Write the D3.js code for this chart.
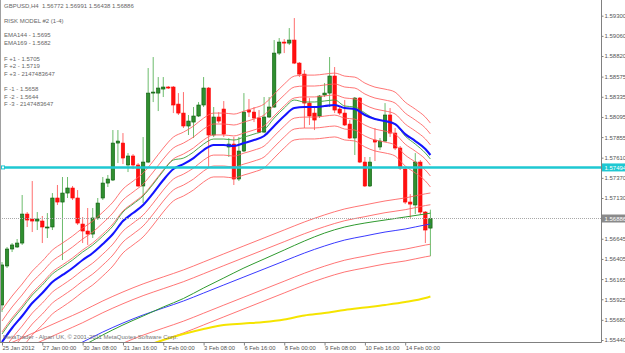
<!DOCTYPE html>
<html><head><meta charset="utf-8">
<script src="https://cdn.jsdelivr.net/npm/d3@7"></script>
<style>
body{margin:0;background:#fff;}
svg{display:block;}
text{font-family:Arial,"Liberation Sans",sans-serif;}
</style>
</head><body>
<svg id="c" width="625" height="353"></svg>
<script>
// ---------- DATA ----------
const opens  = [1.55857,1.56321,1.56523,1.56547,1.56594,1.56939,1.56880,1.56856,1.56856,1.56773,1.56785,1.57130,1.57082,1.57189,1.57249,1.57130,1.56820,1.56737,1.56701,1.56892,1.57130,1.57308,1.57344,1.57784,1.57784,1.57523,1.57630,1.57523,1.57273,1.57558,1.58379,1.58379,1.58427,1.58451,1.58451,1.58248,1.58141,1.57987,1.58034,1.58106,1.58237,1.58439,1.57880,1.58094,1.58189,1.57737,1.57772,1.57356,1.57689,1.58177,1.58153,1.58082,1.57915,1.58094,1.58213,1.58855,1.58986,1.58974,1.59010,1.58736,1.58605,1.58260,1.58141,1.58106,1.58356,1.58379,1.58582,1.58189,1.58141,1.58010,1.57844,1.58320,1.57558,1.57273,1.57820,1.57737,1.57808,1.58118,1.57903,1.57725,1.57475,1.57082,1.57047,1.57558,1.56963,1.56772];
const highs  = [1.56368,1.56547,1.56594,1.56642,1.57166,1.56963,1.57332,1.56963,1.56916,1.56951,1.57189,1.57285,1.57380,1.57380,1.57273,1.57225,1.56904,1.57011,1.57011,1.57130,1.57380,1.57404,1.57939,1.57939,1.57903,1.57665,1.57653,1.57546,1.57856,1.58677,1.58808,1.58570,1.58570,1.58463,1.58463,1.58379,1.58391,1.58118,1.58213,1.58272,1.58570,1.58451,1.58213,1.58153,1.58284,1.57844,1.57856,1.57856,1.58379,1.58308,1.58213,1.58177,1.58332,1.58332,1.59010,1.59034,1.59022,1.59153,1.59272,1.58748,1.58653,1.58320,1.58213,1.58356,1.58498,1.58808,1.58689,1.58225,1.58296,1.58058,1.58332,1.58332,1.57618,1.57618,1.57963,1.57844,1.58260,1.58201,1.57963,1.57749,1.57487,1.57177,1.57665,1.57582,1.56975,1.56991];
const lows   = [1.55773,1.56297,1.56487,1.56535,1.56571,1.56785,1.56725,1.56749,1.56594,1.56654,1.56749,1.57047,1.56392,1.57130,1.57106,1.56809,1.56594,1.56571,1.56654,1.56868,1.57106,1.57261,1.57332,1.57546,1.57534,1.57439,1.57475,1.57261,1.57070,1.57546,1.58272,1.58165,1.58332,1.58427,1.58141,1.58118,1.57963,1.57880,1.57844,1.58094,1.58213,1.57487,1.57856,1.58022,1.57856,1.57618,1.57285,1.57332,1.57677,1.58094,1.58034,1.57903,1.57903,1.58082,1.58201,1.58832,1.58855,1.58951,1.58724,1.58570,1.57963,1.57999,1.57939,1.58082,1.58332,1.58213,1.58141,1.58118,1.57987,1.57832,1.57642,1.57546,1.57261,1.57261,1.57570,1.57701,1.57796,1.57856,1.57701,1.57463,1.57058,1.56892,1.56939,1.56928,1.56594,1.56438];
const closes = [1.56333,1.56523,1.56571,1.56594,1.56939,1.56868,1.56856,1.56880,1.56785,1.56785,1.57130,1.57082,1.57189,1.57249,1.57130,1.56832,1.56737,1.56701,1.56892,1.57070,1.57308,1.57356,1.57784,1.57808,1.57606,1.57630,1.57523,1.57273,1.57558,1.58379,1.58391,1.58439,1.58451,1.58439,1.58237,1.58141,1.57987,1.58046,1.58106,1.58237,1.58439,1.57880,1.58094,1.58046,1.57891,1.57772,1.57356,1.57689,1.58153,1.58153,1.58082,1.57915,1.58094,1.58213,1.58855,1.58986,1.58974,1.59010,1.58736,1.58605,1.58260,1.58106,1.58058,1.58344,1.58379,1.58582,1.58177,1.58141,1.57999,1.57844,1.58320,1.57558,1.57273,1.57558,1.57796,1.57808,1.58118,1.57903,1.57725,1.57487,1.57082,1.57058,1.57558,1.56963,1.56749,1.56886];

// short-period moving averages (bar index, price)
const shortIdx   = [0,2,4,6,8,10,12,14,16,18,20,22,24,26,28,30,32,34,36,38,40,42,44,46,48,50,52,54,56,58,60,62,64,66,68,70,72,74,76,78,80,82,84,85];
const shortBlue  = [1.55416,1.55583,1.55726,1.55880,1.55999,1.56130,1.56214,1.56297,1.56392,1.56475,1.56582,1.56701,1.56856,1.56951,1.57047,1.57189,1.57344,1.57475,1.57534,1.57606,1.57701,1.57761,1.57761,1.57749,1.57784,1.57820,1.57868,1.57987,1.58106,1.58201,1.58213,1.58213,1.58225,1.58237,1.58201,1.58189,1.58118,1.58070,1.58046,1.58010,1.57891,1.57808,1.57713,1.57642];
const shortGreen = [1.55511,1.55678,1.55821,1.55975,1.56094,1.56225,1.56309,1.56392,1.56487,1.56570,1.56677,1.56796,1.56963,1.57058,1.57154,1.57296,1.57451,1.57582,1.57605,1.57677,1.57772,1.57832,1.57832,1.57820,1.57855,1.57891,1.57939,1.58082,1.58201,1.58296,1.58273,1.58273,1.58285,1.58297,1.58225,1.58213,1.58142,1.58070,1.58046,1.58010,1.57867,1.57772,1.57665,1.57594];
const shortBands = [0.0038,0.0025,0.0012,-0.0012,-0.0025,-0.0038];

// long-period moving averages
const longIdx   = [0,4,8,12,16,20,24,28,32,36,40,44,48,52,56,60,64,68,72,76,80,84,85];
const ema169    = [1.54988,1.55095,1.55202,1.55309,1.55416,1.55535,1.55642,1.55738,1.55821,1.55904,1.55999,1.56095,1.56190,1.56285,1.56380,1.56475,1.56559,1.56630,1.56678,1.56725,1.56761,1.56810,1.56820];
const ema144    = [1.54893,1.55012,1.55131,1.55250,1.55369,1.55500,1.55619,1.55726,1.55833,1.55934,1.56059,1.56178,1.56297,1.56404,1.56511,1.56618,1.56713,1.56785,1.56832,1.56868,1.56904,1.56940,1.56950];
const longBands = [0.0037,0.0023,-0.0024,-0.0038];

const yellowIdx = [28,32,36,40,44,48,52,56,60,64,68,72,76,80,84,85];
const yellowMA  = [1.55357,1.55440,1.55511,1.55571,1.55619,1.55636,1.55654,1.55684,1.55732,1.55761,1.55797,1.55827,1.55857,1.55892,1.55940,1.55958];

const hLinePrice = 1.57494;
const lastPrice  = 1.56886;

const yTicks   = [1.59300,1.59060,1.58820,1.58575,1.58335,1.58095,1.57855,1.57610,1.57370,1.57130,1.56645,1.56405,1.56165,1.55925,1.55680,1.55440];
const xTickIdx = [0,8,16,24,32,40,48,56,64,72,80];
const xLabels  = ["25 Jan 2012","27 Jan 00:00","30 Jan 08:00","31 Jan 16:00","2 Feb 00:00","3 Feb 08:00","6 Feb 16:00","8 Feb 00:00","9 Feb 08:00","10 Feb 16:00","14 Feb 00:00"];

const infoLines = ["GBPUSD,H4  1.56772 1.56991 1.56438 1.56886","RISK MODEL #2 (1-4)","EMA144 - 1.5695","EMA169 - 1.5682","F +1 - 1.5705","F +2 - 1.5719","F +3 - 2147483647","F -1 - 1.5658","F -2 - 1.5644","F -3 - 2147483647"];
const copyright = "MetaTrader - Alpari UK, \u00a9 2001-2011 MetaQuotes Software Corp.";

// ---------- LAYOUT ----------
const plotR = 601.5, plotB = 342.5;
const svg = d3.select("#c");
const x = d3.scaleLinear().domain([0,80]).range([2,405.2]);
const y = d3.scaleLinear().domain([1.55440,1.59300]).range([340,15.7]);

svg.append("rect").attr("width",625).attr("height",353).attr("fill","#fff");
svg.append("defs").append("clipPath").attr("id","clip")
  .append("rect").attr("x",0).attr("y",0).attr("width",plotR).attr("height",plotB);

const g = svg.append("g").attr("clip-path","url(#clip)");

// candles
const candles = d3.range(opens.length).map(i=>({i,o:opens[i],h:highs[i],l:lows[i],c:closes[i]}));
const cg = g.append("g");
cg.selectAll("line.w").data(candles).join("line")
  .attr("x1",d=>x(d.i)).attr("x2",d=>x(d.i))
  .attr("y1",d=>y(d.h)).attr("y2",d=>y(d.l))
  .attr("stroke",d=>d.c>=d.o?"#6cbc6c":"#ff6e6e").attr("stroke-width",1);
cg.selectAll("rect.b").data(candles).join("rect")
  .attr("x",d=>x(d.i)-1.7).attr("width",3.4)
  .attr("y",d=>y(Math.max(d.o,d.c)))
  .attr("height",d=>Math.max(1,Math.abs(y(d.o)-y(d.c))))
  .attr("fill",d=>d.c>=d.o?"#2f8f2f":"#ff1010")
  .attr("stroke",d=>d.c>=d.o?"#0b5a0b":"#ff0000").attr("stroke-width",0.6);

const line = d3.line().x(d=>x(d[0])).y(d=>y(d[1])).curve(d3.curveMonotoneX);
function path(idx, vals, off, color, w){
  g.append("path").datum(idx.map((k,j)=>[k,vals[j]+off]))
    .attr("d",line).attr("fill","none").attr("stroke",color).attr("stroke-width",w);
}
// long set
longBands.forEach(o=>path(longIdx, ema169, o, "#ff5c5c", 0.85));
path(longIdx, ema169, 0, "#3a3aff", 1);
path(longIdx, ema144, 0, "#2f9a2f", 1);
path(yellowIdx, yellowMA, 0, "#f5e400", 2);
// short set
shortBands.forEach(o=>path(shortIdx, shortBlue, o, "#ff5c5c", 0.85));
path(shortIdx, shortGreen, 0, "#3a9e3a", 0.9);
path(shortIdx, shortBlue, 0, "#1414ff", 2.1);

// horizontal lines
g.append("line").attr("x1",0).attr("x2",plotR).attr("y1",y(lastPrice)).attr("y2",y(lastPrice))
  .attr("stroke","#a8a8a8").attr("stroke-width",1).attr("stroke-dasharray","1,1");
g.append("line").attr("x1",0).attr("x2",plotR).attr("y1",y(hLinePrice)).attr("y2",y(hLinePrice))
  .attr("stroke","#1ec8d2").attr("stroke-width",2.4);
g.append("rect").attr("x",1.5).attr("y",y(hLinePrice)-1.5).attr("width",3).attr("height",3)
  .attr("fill","#fff").attr("stroke","#1ec8d2").attr("stroke-width",1);

// frame
svg.append("line").attr("x1",0.5).attr("x2",0.5).attr("y1",0).attr("y2",plotB).attr("stroke","#a0a0a0");
svg.append("line").attr("x1",plotR).attr("x2",plotR).attr("y1",0).attr("y2",plotB).attr("stroke","#808080");
svg.append("line").attr("x1",0).attr("x2",plotR).attr("y1",plotB).attr("y2",plotB).attr("stroke","#808080");

// right axis
const ya = svg.append("g").attr("transform",`translate(${plotR},0)`)
  .call(d3.axisRight(y).tickValues(yTicks).tickSize(2).tickPadding(1).tickFormat(d3.format(".5f")));
ya.select(".domain").remove();
ya.selectAll("line").attr("stroke","#808080");
ya.selectAll("text").attr("font-size","6px").attr("fill","#555").attr("x",3);

// bottom axis
const xa = svg.append("g").attr("transform",`translate(0,${plotB})`)
  .call(d3.axisBottom(x).tickValues(xTickIdx).tickSize(3).tickFormat((d,i)=>xLabels[i]));
xa.select(".domain").remove();
xa.selectAll("line").attr("stroke","#808080");
xa.selectAll("text").attr("font-size","5.8px").attr("fill","#555")
  .attr("text-anchor","start").attr("y",3).attr("dy","0.71em");

// price labels on axis
function priceTag(v, bg, fg){
  const yy = y(v);
  svg.append("rect").attr("x",plotR+0.5).attr("y",yy-4).attr("width",625-plotR).attr("height",8).attr("fill",bg);
  svg.append("text").attr("x",plotR+3).attr("y",yy).attr("dy","0.35em")
    .attr("font-size","6px").attr("fill",fg).text(d3.format(".5f")(v));
}
priceTag(hLinePrice,"#1ec8d2","#ffffff");
priceTag(lastPrice,"#8a8a8a","#ffffff");

// info text
const infoY = [8.2,22.9,36.9,45.2,60.9,68.2,75.5,91.2,98.9,106.2];
svg.append("g").selectAll("text").data(infoLines).join("text")
  .attr("x",4).attr("y",(d,i)=>infoY[i]).attr("font-size","6px").attr("fill","#666")
  .style("white-space","pre").text(d=>d);
svg.append("text").attr("x",3).attr("y",338.8).attr("font-size","6px").attr("fill","#777").text(copyright);
</script>
</body></html>
